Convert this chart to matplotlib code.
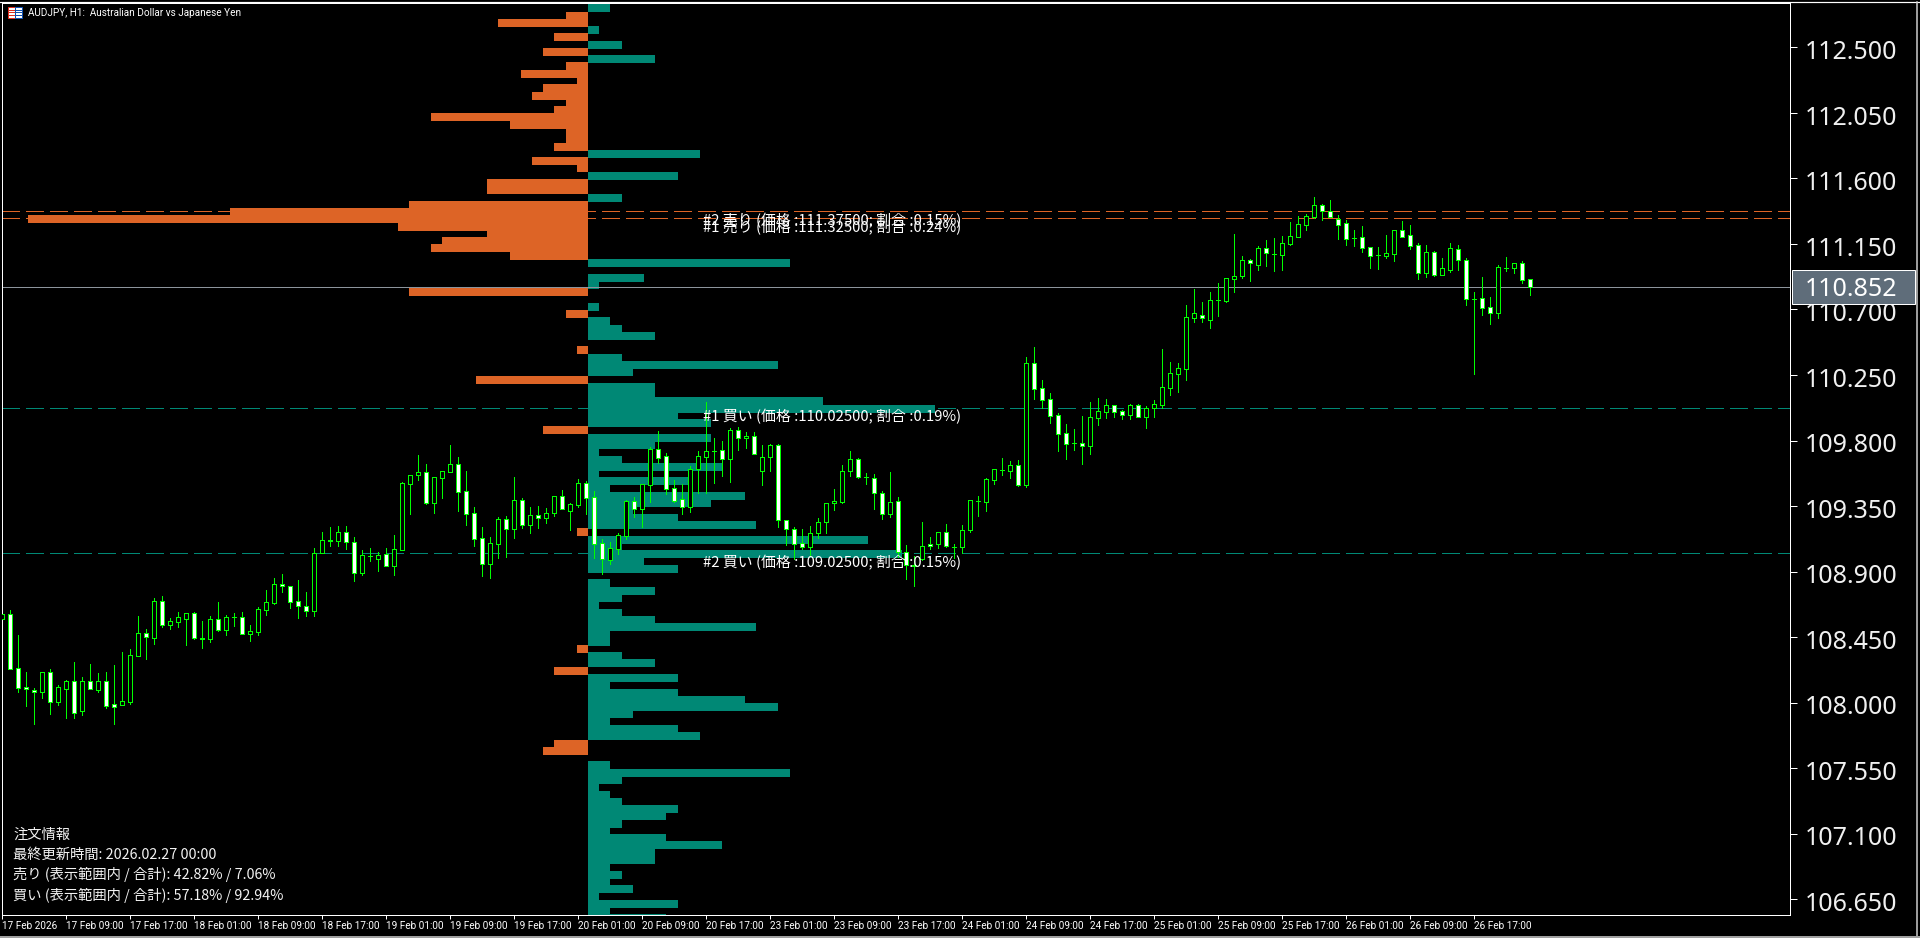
import numpy as np
import matplotlib
matplotlib.use("Agg")
import matplotlib.pyplot as plt
from matplotlib.patches import Rectangle
from matplotlib.lines import Line2D
from matplotlib.transforms import ScaledTranslation

plt.rcParams['font.family'] = ['Noto Sans CJK JP', 'DejaVu Sans']

W, H = 1920, 938
UP = 112.805
DOWN = 106.5415

opens = [108.577,108.606,108.235,108.105,108.089,108.071,108.208,108.006,108.096,108.146,
         107.940,108.146,108.089,108.146,107.988,107.981,108.006,108.322,108.476,108.446,
         108.696,108.535,108.556,108.577,108.613,108.444,108.439,108.572,108.501,108.586,
         108.586,108.473,108.487,108.638,108.686,108.812,108.799,108.696,108.661,108.632,
         109.025,109.115,109.108,109.172,109.103,108.892,109.007,108.984,109.021,108.941,
         109.050,109.504,109.561,109.584,109.373,109.545,109.586,109.639,109.453,109.302,
         109.131,108.954,109.089,109.261,109.195,109.392,109.222,109.289,109.270,109.305,
         109.419,109.316,109.360,109.508,109.412,109.096,108.982,109.057,109.147,109.385,
         109.332,109.492,109.742,109.691,109.472,109.396,109.346,109.602,109.684,109.728,
         109.733,109.675,109.870,109.815,109.829,109.588,109.684,109.767,109.252,109.190,
         109.094,109.066,109.163,109.238,109.369,109.380,109.588,109.671,109.547,109.540,
         109.437,109.293,109.382,109.032,108.945,108.984,109.087,109.087,109.170,109.069,
         109.066,109.183,109.382,109.380,109.531,109.598,109.593,109.630,109.497,110.330,
         110.159,110.083,109.973,109.849,109.781,109.781,109.765,109.957,109.998,110.042,
         110.001,109.978,110.042,109.964,110.026,110.046,110.163,110.259,110.294,110.640,
         110.664,110.630,110.763,110.761,110.912,110.932,111.038,111.008,111.120,111.081,
         111.077,111.152,111.200,111.283,111.338,111.416,111.374,111.319,111.292,111.191,
         111.196,111.127,111.072,111.070,111.084,111.244,111.209,111.141,110.953,111.093,
         110.939,110.974,111.113,111.038,110.772,110.777,110.715,110.678,110.985,110.983,
         111.017,110.907]
closes = [108.606,108.233,108.103,108.091,108.071,108.208,108.006,108.105,108.146,107.931,
          108.146,108.091,108.146,107.979,107.972,108.009,108.325,108.476,108.448,108.696,
          108.535,108.558,108.586,108.613,108.446,108.439,108.572,108.501,108.586,108.587,
          108.473,108.490,108.641,108.689,108.812,108.799,108.693,108.661,108.627,109.025,
          109.115,109.110,109.170,109.103,108.892,109.014,109.007,109.014,108.941,109.055,
          109.508,109.563,109.584,109.373,109.550,109.591,109.639,109.449,109.298,109.126,
          108.954,109.096,109.261,109.195,109.392,109.222,109.289,109.270,109.302,109.419,
          109.332,109.364,109.508,109.408,109.092,108.984,109.062,109.151,109.385,109.332,
          109.499,109.742,109.682,109.469,109.387,109.346,109.602,109.691,109.726,109.729,
          109.675,109.870,109.815,109.829,109.705,109.684,109.767,109.252,109.190,109.087,
          109.066,109.163,109.238,109.369,109.382,109.588,109.671,109.547,109.548,109.437,
          109.293,109.376,109.032,108.943,108.940,109.073,109.073,109.170,109.073,109.070,
          109.183,109.389,109.383,109.533,109.602,109.599,109.630,109.497,110.330,110.156,
          110.081,109.971,109.847,109.778,109.782,109.765,109.959,110.001,110.042,109.998,
          109.978,110.042,109.964,110.021,110.049,110.165,110.262,110.296,110.647,110.674,
          110.641,110.763,110.764,110.914,110.932,111.038,111.017,111.120,111.086,111.082,
          111.154,111.203,111.285,111.340,111.416,111.374,111.338,111.278,111.187,111.192,
          111.125,111.070,111.073,111.086,111.244,111.200,111.138,110.953,111.093,110.939,
          110.983,111.120,111.042,110.774,110.773,110.713,110.678,110.990,110.986,111.017,
          110.905,110.852]
highs = [108.606,108.636,108.464,108.210,108.098,108.208,108.231,108.119,108.155,108.279,
         108.176,108.265,108.203,108.210,108.258,108.348,108.368,108.595,108.506,108.719,
         108.732,108.581,108.622,108.613,108.622,108.561,108.595,108.691,108.602,108.615,
         108.622,108.533,108.654,108.774,108.856,108.883,108.799,108.842,108.760,109.062,
         109.172,109.206,109.213,109.213,109.137,109.048,109.062,109.034,109.062,109.151,
         109.518,109.563,109.701,109.639,109.550,109.591,109.769,109.687,109.591,109.344,
         109.206,109.137,109.275,109.282,109.550,109.405,109.344,109.350,109.337,109.419,
         109.460,109.371,109.536,109.522,109.453,109.124,109.103,109.165,109.392,109.412,
         109.499,109.755,109.865,109.714,109.529,109.499,109.623,109.728,110.065,109.817,
         109.797,109.886,109.893,109.859,109.859,109.769,109.774,109.774,109.252,109.206,
         109.192,109.213,109.268,109.369,109.467,109.632,109.728,109.678,109.577,109.570,
         109.453,109.584,109.412,109.082,109.007,109.240,109.137,109.172,109.227,109.089,
         109.217,109.392,109.419,109.543,109.602,109.680,109.659,109.666,110.374,110.443,
         110.216,110.127,109.989,109.914,109.879,109.968,110.065,110.092,110.085,110.042,
         110.007,110.051,110.051,110.037,110.078,110.429,110.339,110.333,110.731,110.841,
         110.751,110.820,110.882,110.914,111.219,111.067,111.044,111.136,111.177,111.191,
         111.205,111.301,111.342,111.356,111.473,111.425,111.452,111.349,111.315,111.246,
         111.274,111.127,111.129,111.212,111.246,111.308,111.280,111.154,111.143,111.102,
         111.054,111.154,111.143,111.054,110.820,110.923,110.786,111.006,111.061,111.017,
         111.033,110.907]
lows = [108.577,108.233,108.075,107.979,107.855,108.034,107.924,107.986,107.896,107.896,
        107.917,108.091,108.075,107.965,107.855,107.981,107.993,108.322,108.302,108.405,
        108.522,108.508,108.522,108.398,108.439,108.377,108.419,108.492,108.467,108.528,
        108.473,108.425,108.467,108.604,108.680,108.762,108.652,108.583,108.597,108.597,
        109.025,109.078,109.078,109.055,108.835,108.876,108.975,108.904,108.941,108.876,
        109.050,109.298,109.529,109.364,109.302,109.405,109.586,109.316,109.220,109.076,
        108.869,108.856,108.993,109.000,109.131,109.199,109.165,109.199,109.234,109.282,
        109.330,109.186,109.344,109.295,108.993,108.883,108.952,109.021,109.124,109.275,
        109.206,109.378,109.646,109.435,109.378,109.295,109.309,109.440,109.440,109.508,
        109.556,109.515,109.735,109.749,109.705,109.494,109.591,109.206,109.082,108.986,
        109.055,109.014,109.130,109.165,109.323,109.371,109.556,109.543,109.501,109.330,
        109.261,109.275,109.000,108.849,108.801,108.979,109.055,109.060,109.071,108.991,
        109.027,109.172,109.282,109.316,109.501,109.563,109.543,109.488,109.481,110.085,
        110.023,109.920,109.728,109.673,109.735,109.639,109.707,109.907,109.955,109.962,
        109.948,109.948,109.962,109.886,109.962,110.023,110.113,110.133,110.216,110.616,
        110.614,110.573,110.655,110.751,110.820,110.916,110.896,110.971,110.999,110.964,
        110.971,111.143,111.198,111.246,111.329,111.315,111.333,111.184,111.143,111.136,
        111.095,110.985,110.978,111.054,111.033,111.198,111.116,110.909,110.923,110.930,
        110.937,110.958,110.971,110.731,110.257,110.662,110.600,110.642,110.964,110.951,
        110.882,110.800]

sell_units = [0,2,8,0,3,0,4,0,2,6,
              1,4,5,2,3,14,7,2,2,3,
              0,5,1,0,9,9,0,16,32,50,
              17,9,13,14,7,0,0,0,0,16,
              0,0,2,0,0,0,0,1,0,0,
              0,10,0,0,0,0,0,0,4,0,
              0,0,0,0,0,0,0,0,0,0,
              0,0,1,0,0,0,0,0,0,0,
              0,0,0,0,0,0,0,0,1,0,
              0,3,0,0,0,0,0,0,0,0,
              0,3,4,0,0,0,0,0,0,0,
              0,0,0,0,0,0,0,0,0,0,
              0,0,0,0,0,0]
buy_units = [2,0,0,1,0,3,0,6,0,0,
             0,0,0,0,0,0,0,0,0,0,
             10,0,0,8,0,0,3,0,0,0,
             0,0,0,0,0,18,0,5,1,0,
             0,1,0,2,3,6,0,0,3,17,
             4,0,6,6,21,31,8,11,0,11,
             6,1,3,12,1,9,2,14,11,4,
             8,15,0,25,3,28,5,8,0,2,
             6,3,1,3,6,15,2,2,0,3,
             6,0,8,2,8,14,17,4,2,8,
             10,0,0,0,2,18,3,1,2,3,
             8,7,3,2,7,12,6,6,2,3,
             2,4,1,8,2,7]
top_level = 112.769

price_ticks = [112.5,112.05,111.6,111.15,110.7,110.25,109.8,109.35,108.9,108.45,108.0,107.55,107.1,106.65]
date_labels = ['17 Feb 2026','17 Feb 09:00','17 Feb 17:00','18 Feb 01:00','18 Feb 09:00','18 Feb 17:00',
               '19 Feb 01:00','19 Feb 09:00','19 Feb 17:00','20 Feb 01:00','20 Feb 09:00','20 Feb 17:00',
               '23 Feb 01:00','23 Feb 09:00','23 Feb 17:00','24 Feb 01:00','24 Feb 09:00','24 Feb 17:00',
               '25 Feb 01:00','25 Feb 09:00','25 Feb 17:00','26 Feb 01:00','26 Feb 09:00','26 Feb 17:00']
sell_prices = [111.375, 111.325]
buy_prices = [110.025, 109.025]
last_price = 110.852
order_labels = ['#2 売り (価格 :111.37500; 割合 :0.15%)', '#1 売り (価格 :111.32500; 割合 :0.24%)',
                '#1 買い (価格 :110.02500; 割合 :0.19%)', '#2 買い (価格 :109.02500; 割合 :0.15%)']
info_lines = ['注文情報', '最終更新時間: 2026.02.27 00:00',
              '売り (表示範囲内 / 合計): 42.82% / 7.06%', '買い (表示範囲内 / 合計): 57.18% / 92.94%']

ORANGE = '#DD6426'
TEAL = '#008875'
LIME = '#00FF00'
GREY = '#8C949C'
PX = 0.72  # one pixel in points at dpi 100


def fx(x):
    return x / W


def fy(y):
    return 1 - y / H


fig = plt.figure(figsize=(W / 100, H / 100), dpi=100, facecolor='black')
pos = [fx(2.33), fy(915), fx(1790 - 2.33), 912 / H]

# volume profile sits under the candles
ax_p = fig.add_axes(pos, zorder=1, facecolor='black')
levels = top_level - 0.05 * np.arange(len(sell_units))
ax_p.barh(levels, -np.array(sell_units), height=8 / 145.6, color=ORANGE, linewidth=0, antialiased=False)
ax_p.barh(levels, buy_units, height=8 / 145.6, color=TEAL, linewidth=0, antialiased=False)
ax_p.set_xlim(-(588 - 2.33) / 11.2, (1790 - 588) / 11.2)
ax_p.set_ylim(DOWN, UP)
ax_p.axis('off')

ax = fig.add_axes(pos, zorder=2)
ax.patch.set_visible(False)
ax.set_xlim(0, (1790 - 2.33) / 8)
ax.set_ylim(DOWN, UP)

for p in sell_prices:
    ax.plot([0, 224], [p, p], color=ORANGE, lw=PX, dashes=(18, 6), zorder=1, antialiased=False,
            dash_capstyle='butt', snap=True)
for p in buy_prices:
    ax.plot([0, 224], [p, p], color=TEAL, lw=PX, dashes=(18, 6), zorder=1, antialiased=False,
            dash_capstyle='butt', snap=True)
ax.axhline(last_price, color=GREY, lw=PX, zorder=1, antialiased=False)

o = np.array(opens)
c = np.array(closes)
x = np.arange(len(o))
ax.vlines(x, lows, highs, color=LIME, lw=PX, zorder=2, antialiased=False)
body_colors = np.where(c >= o, 'black', 'white')
ax.bar(x, c - o, bottom=o, width=0.5, color=body_colors, edgecolor=LIME, linewidth=PX, zorder=3, antialiased=False)

ax.set_xticks(np.arange(len(date_labels)) * 8)
ax.set_xticklabels(date_labels, ha='left', fontsize=7.2, color='white', family=['Roboto', 'DejaVu Sans'])
ax.yaxis.tick_right()
ax.set_yticks(price_ticks)
ax.set_yticklabels(['%.3f' % p for p in price_ticks], fontsize=18, color='#F0F0F0', family=['Noto Sans', 'DejaVu Sans'])
ax.tick_params(axis='x', length=2.9, width=PX, color='white', pad=1.5)
ax.tick_params(axis='y', length=5, width=PX, color='white', pad=5.5)
# price labels sit a little below their ticks
shift = ScaledTranslation(0, -1.5 / 72, fig.dpi_scale_trans)
for lab in ax.get_yticklabels():
    lab.set_transform(lab.get_transform() + shift)
for s in ax.spines.values():
    s.set_color('white')
    s.set_linewidth(PX)

# current price tag
fig.add_artist(Rectangle((fx(1791.5), fy(304.5)), 1915 / W - 1791.5 / W, 34 / H, transform=fig.transFigure,
                         facecolor='#5F6D7A', edgecolor='white', linewidth=PX, zorder=5))
fig.text(fx(1805), fy(289.5), '%.3f' % last_price, fontsize=18, color='white', va='center', ha='left',
         family=['Noto Sans', 'DejaVu Sans'], zorder=6)

# window edges
fig.add_artist(Line2D([0, 1], [fy(2.5), fy(2.5)], color='white', lw=PX * 1.2, zorder=5))
fig.add_artist(Line2D([fx(1917), fx(1917)], [fy(2.5), fy(936)], color='#D0D0D0', lw=PX * 1.5, zorder=5))
fig.add_artist(Line2D([0, 1], [fy(936.5), fy(936.5)], color='#A0A0A0', lw=PX * 2, zorder=5))

# chart title with the small flag icon
fig.add_artist(Rectangle((fx(7.5), fy(18)), 7 / W, 11 / H, transform=fig.transFigure,
                         facecolor='white', edgecolor='#E03020', linewidth=PX, zorder=5))
fig.add_artist(Rectangle((fx(14.5), fy(18)), 7 / W, 11 / H, transform=fig.transFigure,
                         facecolor='white', edgecolor='#1050B0', linewidth=PX, zorder=5))
for yy in [10, 12.5, 15]:
    fig.add_artist(Line2D([fx(8), fx(14)], [fy(yy), fy(yy)], color='#E03020', lw=PX, zorder=6))
    fig.add_artist(Line2D([fx(15), fx(21)], [fy(yy), fy(yy)], color='#1050B0', lw=PX, zorder=6))
fig.text(fx(28), fy(13.5), 'AUDJPY, H1:  Australian Dollar vs Japanese Yen', fontsize=7.2, color='white',
         va='center', ha='left', family=['Roboto', 'DejaVu Sans'], zorder=6)

# order labels next to the dashed lines
order_y = [220.7, 228, 417, 562.3]
for label, yy in zip(order_labels, order_y):
    fig.text(fx(703), fy(yy), label, fontsize=10.7, color='white', va='center', ha='left', zorder=6)

# order info block
for line, yy in zip(info_lines, [835, 854.5, 874.5, 895]):
    fig.text(fx(13), fy(yy), line, fontsize=10.3, color='#F2F2F2', va='center', ha='left', zorder=6)

fig.savefig('out.png', dpi=100, facecolor='black')
